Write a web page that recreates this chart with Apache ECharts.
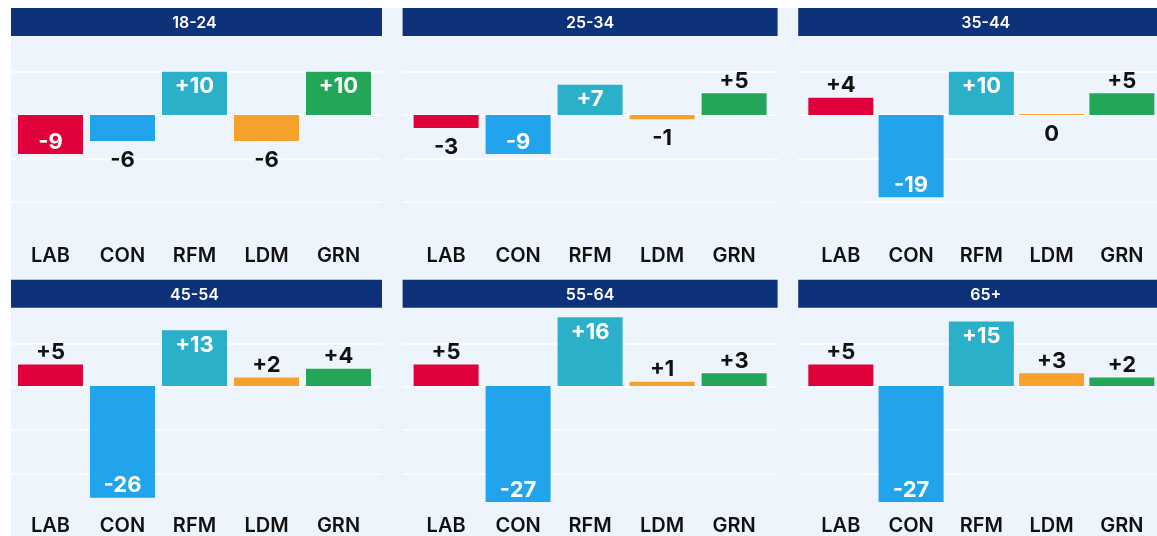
<!DOCTYPE html>
<html>
<head>
<meta charset="utf-8">
<script src="https://cdn.jsdelivr.net/npm/echarts@6/dist/echarts.min.js"></script>
<style>
  html, body { margin: 0; padding: 0; background: #ffffff; }
  #main { position: absolute; left: 11px; top: 8px; width: 1146px; height: 528px; background: #eef4fc; }
</style>
</head>
<body>
<div id="main"></div>
<script>
  // data
  var parties = ['LAB', 'CON', 'RFM', 'LDM', 'GRN'];
  var ageGroups = ['18-24', '25-34', '35-44', '45-54', '55-64', '65+'];
  var lab = [-9, -3, 4, 5, 5, 5];
  var con = [-6, -9, -19, -26, -27, -27];
  var rfm = [10, 7, 10, 13, 16, 15];
  var ldm = [-6, -1, 0, 2, 1, 3];
  var grn = [10, 5, 5, 4, 3, 2];
  var partyColors = ['#e0003a', '#21a4eb', '#2ab0c8', '#f5a12c', '#23a658'];

  var FONT = 'Inter, "Noto Sans", sans-serif';
  var OX = 11, OY = 8;
  var COL_STEP = 395.6, ROW_STEP = 271.7;
  var HEADER_W = 375, HEADER_H = 28;
  var PLOT_H = 208;

  var myChart = echarts.init(document.getElementById('main'));

  function fmt(v) {
    return v > 0 ? '+' + v : String(v);
  }

  // big bars carry a white label inside, small ones a dark label outside
  function labelFor(v) {
    var inside = Math.abs(v) >= 7;
    var lbl = {
      show: true,
      formatter: fmt(v),
      fontFamily: FONT,
      fontSize: 22,
      fontWeight: 700,
      color: inside ? '#ffffff' : '#111111'
    };
    if (v > 0) {
      lbl.position = inside ? 'insideTop' : 'top';
      lbl.distance = inside ? 4 : 1;
    } else {
      lbl.position = inside ? 'insideBottom' : 'bottom';
      lbl.distance = inside ? 1 : 8;
    }
    return lbl;
  }

  var grids = [], xAxes = [], yAxes = [], series = [], graphics = [];

  ageGroups.forEach(function (age, p) {
    var col = p % 3, row = Math.floor(p / 3);
    var hx = 7 + COL_STEP * col - OX;
    var hy = 8 + ROW_STEP * row - OY;
    var gy = 37 + ROW_STEP * row - OY;

    // header bar
    graphics.push({
      type: 'rect',
      shape: { x: hx, y: hy, width: HEADER_W, height: HEADER_H },
      style: { fill: '#0d327a' },
      z: 10
    });
    graphics.push({
      type: 'text',
      x: hx + HEADER_W / 2,
      y: hy + HEADER_H / 2 + 1,
      style: {
        text: age,
        fill: '#ffffff',
        font: '600 16px ' + FONT,
        align: 'center',
        verticalAlign: 'middle'
      },
      z: 11
    });

    // grid for the gridlines, full header width
    grids.push({ left: hx, top: gy, width: HEADER_W, height: PLOT_H });
    xAxes.push({ gridIndex: 2 * p, type: 'value', min: 0, max: 1, show: false });
    yAxes.push({
      gridIndex: 2 * p, type: 'value', min: -30, max: 18, interval: 10,
      axisLabel: { show: false }, axisLine: { show: false }, axisTick: { show: false },
      splitLine: { show: true, showMinLine: false, showMaxLine: false, lineStyle: { color: '#ffffff', width: 1.5 } }
    });

    // grid for the bars
    grids.push({ left: hx + 7.5, top: gy, width: HEADER_W - 15, height: PLOT_H });
    xAxes.push({
      gridIndex: 2 * p + 1, type: 'category', data: parties,
      axisLine: { show: false, onZero: false }, axisTick: { show: false },
      axisLabel: { fontFamily: FONT, fontSize: 20, fontWeight: 600, color: '#111111', margin: 1 }
    });
    yAxes.push({
      gridIndex: 2 * p + 1, type: 'value', min: -30, max: 18, interval: 10,
      show: false, splitLine: { show: false }
    });

    var vals = [lab[p], con[p], rfm[p], ldm[p], grn[p]];
    series.push({
      type: 'bar',
      xAxisIndex: 2 * p + 1,
      yAxisIndex: 2 * p + 1,
      barWidth: 65,
      barMinHeight: 1,
      animation: false,
      data: vals.map(function (v, k) {
        return { value: v, itemStyle: { color: partyColors[k] }, label: labelFor(v) };
      })
    });
  });

  var option = {
    backgroundColor: 'transparent',
    animation: false,
    grid: grids,
    xAxis: xAxes,
    yAxis: yAxes,
    series: series,
    graphic: graphics
  };

  myChart.setOption(option);
</script>
</body>
</html>
